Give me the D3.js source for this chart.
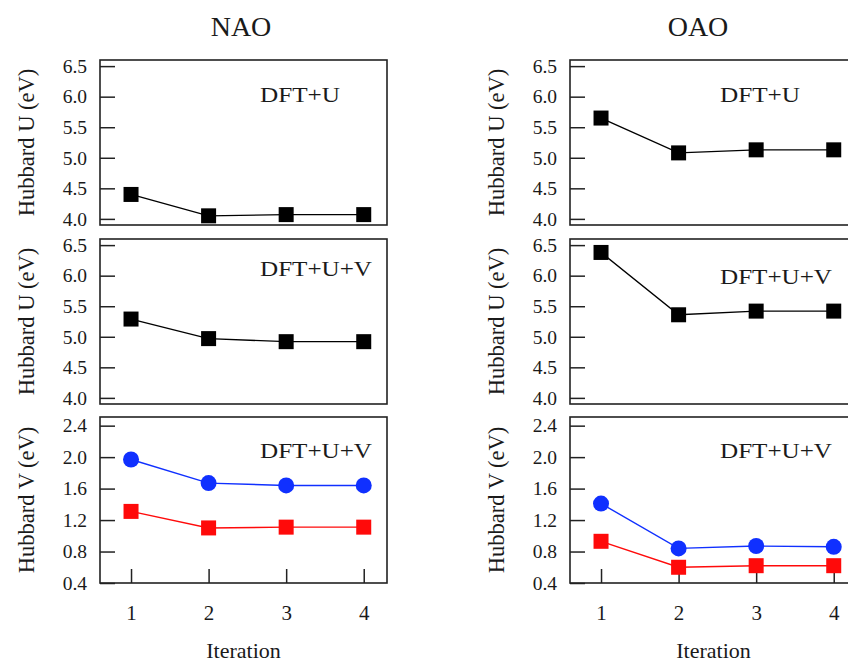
<!DOCTYPE html>
<html lang="en">
<head>
<meta charset="UTF-8">
<title>Hubbard parameters vs iteration</title>
<style>
  body { margin: 0; background: #fff; }
  svg text { font-family: "Liberation Serif", "Times New Roman", serif; fill: #1a1a1a; }
</style>
</head>
<body>
<div id="chart"></div>
<script src="https://d3js.org/d3.v7.min.js"></script>
<script>
// data
var iterations = [1, 2, 3, 4];
var naoU_dftu  = [4.40, 4.05, 4.07, 4.07];
var oaoU_dftu  = [5.65, 5.08, 5.13, 5.13];
var naoU_dftuv = [5.29, 4.97, 4.92, 4.92];
var oaoU_dftuv = [6.38, 5.36, 5.42, 5.42];
var naoV_blue  = [1.97, 1.67, 1.64, 1.64];
var naoV_red   = [1.31, 1.10, 1.11, 1.11];
var oaoV_blue  = [1.41, 0.84, 0.87, 0.86];
var oaoV_red   = [0.93, 0.60, 0.62, 0.62];
var uTicks = [4.0, 4.5, 5.0, 5.5, 6.0, 6.5];
var vTicks = [0.4, 0.8, 1.2, 1.6, 2.0, 2.4];
var columns = ["NAO", "OAO"];

var W = 848, H = 663;
var svg = d3.select("#chart").append("svg")
  .attr("width", W).attr("height", H);

var colLeft = [100, 570];
var panelW = 287;
var rows = [
  {top: 60,  h: 165, domain: [3.9, 6.6],  ticks: uTicks, fmt: d3.format(".1f"), ylabel: "Hubbard U (eV)"},
  {top: 239, h: 165, domain: [3.9, 6.6],  ticks: uTicks, fmt: d3.format(".1f"), ylabel: "Hubbard U (eV)"},
  {top: 417, h: 166, domain: [0.4, 2.51], ticks: vTicks, fmt: d3.format(".1f"), ylabel: "Hubbard V (eV)"}
];

var panels = [
  {col: 0, row: 0, label: "DFT+U",   lx: 260, ly: 102, tl: 80,  series: [{v: naoU_dftu,  c: "#000", m: "sq"}]},
  {col: 1, row: 0, label: "DFT+U",   lx: 720, ly: 102, tl: 80,  series: [{v: oaoU_dftu,  c: "#000", m: "sq"}]},
  {col: 0, row: 1, label: "DFT+U+V", lx: 260, ly: 276, tl: 112, series: [{v: naoU_dftuv, c: "#000", m: "sq"}]},
  {col: 1, row: 1, label: "DFT+U+V", lx: 720, ly: 284, tl: 112, series: [{v: oaoU_dftuv, c: "#000", m: "sq"}]},
  {col: 0, row: 2, label: "DFT+U+V", lx: 260, ly: 458, tl: 112, series: [{v: naoV_blue, c: "#1030ff", m: "ci"}, {v: naoV_red, c: "#ff0a0a", m: "sq"}]},
  {col: 1, row: 2, label: "DFT+U+V", lx: 720, ly: 458, tl: 112, series: [{v: oaoV_blue, c: "#1030ff", m: "ci"}, {v: oaoV_red, c: "#ff0a0a", m: "sq"}]}
];

panels.forEach(function(p) {
  var r = rows[p.row];
  var x0 = colLeft[p.col];
  var g = svg.append("g").attr("transform", "translate(" + x0 + "," + r.top + ")");

  var x = d3.scaleLinear().domain([0.6, 4.3]).range([0, panelW]);
  var y = d3.scaleLinear().domain(r.domain).range([r.h, 0]);

  // y axis, ticks pointing inwards
  var ya = g.append("g")
    .call(d3.axisLeft(y).tickValues(r.ticks).tickFormat(r.fmt).tickSize(-15).tickPadding(13));
  ya.select(".domain").remove();
  ya.selectAll("line").attr("stroke", "#222").attr("stroke-width", 1.5);
  ya.selectAll("text").attr("font-size", 19.5).attr("fill", "#1a1a1a");

  if (p.row === 2) {
    var xa = g.append("g").attr("transform", "translate(0," + r.h + ")")
      .call(d3.axisBottom(x).tickValues(iterations).tickFormat(d3.format("d")).tickSize(-14).tickPadding(22));
    xa.select(".domain").remove();
    xa.selectAll("line").attr("stroke", "#222").attr("stroke-width", 1.5);
    xa.selectAll("text").attr("font-size", 21).attr("fill", "#1a1a1a");

    g.append("text")
      .attr("x", panelW / 2).attr("y", r.h + 75)
      .attr("text-anchor", "middle").attr("font-size", 22)
      .text("Iteration");
  }

  // frame
  g.append("rect")
    .attr("width", panelW).attr("height", r.h)
    .attr("fill", "none").attr("stroke", "#222").attr("stroke-width", 1.6);

  // y label
  g.append("text")
    .attr("transform", "translate(-66," + (r.h / 2) + ") rotate(-90)")
    .attr("text-anchor", "middle").attr("font-size", 22.5)
    .text(r.ylabel);

  // panel annotation
  svg.append("text")
    .attr("x", p.lx).attr("y", p.ly)
    .attr("font-size", 21.5)
    .attr("textLength", p.tl).attr("lengthAdjust", "spacingAndGlyphs")
    .text(p.label);

  var line = d3.line()
    .x(function(d, i) { return x(iterations[i]); })
    .y(function(d) { return y(d); });

  p.series.forEach(function(s) {
    g.append("path").datum(s.v)
      .attr("d", line).attr("fill", "none")
      .attr("stroke", s.c).attr("stroke-width", 1.4);
    if (s.m === "sq") {
      g.selectAll(null).data(s.v).enter().append("rect")
        .attr("x", function(d, i) { return x(iterations[i]) - 7.5; })
        .attr("y", function(d) { return y(d) - 7.5; })
        .attr("width", 15).attr("height", 15)
        .attr("fill", s.c);
    } else {
      g.selectAll(null).data(s.v).enter().append("circle")
        .attr("cx", function(d, i) { return x(iterations[i]); })
        .attr("cy", function(d) { return y(d); })
        .attr("r", 8)
        .attr("fill", s.c);
    }
  });
});

// column titles
svg.selectAll(".title").data(columns).enter().append("text")
  .attr("class", "title")
  .attr("x", function(d, i) { return [241, 698][i]; })
  .attr("y", 36)
  .attr("text-anchor", "middle")
  .attr("font-size", 28)
  .text(function(d) { return d; });
</script>
</body>
</html>
